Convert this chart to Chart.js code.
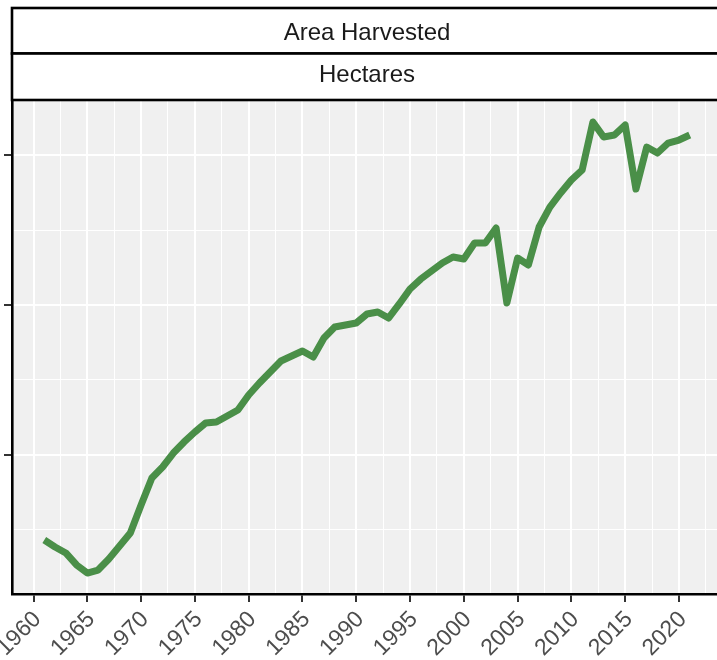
<!DOCTYPE html>
<html><head><meta charset="utf-8">
<script src="https://cdn.jsdelivr.net/npm/chart.js@4.4.1/dist/chart.umd.min.js"></script>
<style>
html,body{margin:0;padding:0;overflow:hidden;background:#fff;}
#wrap{width:722px;height:660px;}
</style></head>
<body><div id="wrap"><canvas id="c" width="722" height="660"></canvas></div>
<script>
// Data (area harvested, relative units)
const years = [1961,1962,1963,1964,1965,1966,1967,1968,1969,1970,
  1971,1972,1973,1974,1975,1976,1977,1978,1979,1980,
  1981,1982,1983,1984,1985,1986,1987,1988,1989,1990,
  1991,1992,1993,1994,1995,1996,1997,1998,1999,2000,
  2001,2002,2003,2004,2005,2006,2007,2008,2009,2010,
  2011,2012,2013,2014,2015,2016,2017,2018,2019,2020,2021];
const areaHarvested = [0.433,0.387,0.347,0.267,0.213,0.233,0.307,0.393,0.480,0.667,
  0.847,0.920,1.013,1.087,1.153,1.213,1.220,1.260,1.300,1.400,
  1.480,1.553,1.627,1.660,1.693,1.653,1.780,1.853,1.867,1.880,
  1.940,1.953,1.913,2.007,2.107,2.173,2.227,2.280,2.320,2.307,
  2.413,2.413,2.513,2.013,2.313,2.267,2.520,2.653,2.747,2.833,
  2.900,3.220,3.120,3.133,3.200,2.773,3.053,3.013,3.080,3.100,3.133];
const xTickLabels = [1960,1965,1970,1975,1980,1985,1990,1995,2000,2005,2010,2015,2020];
const xMinorTicks = [1962.5,1967.5,1972.5,1977.5,1982.5,1987.5,1992.5,1997.5,2002.5,2007.5,2012.5,2017.5,2022.5];
const yMajorTicks = [1,2,3];
const yMinorTicks = [0.5,1.5,2.5];
const stripLabels = ['Area Harvested','Hectares'];

const FONT = '"Liberation Sans", Arial, Helvetica, sans-serif';
const isMajorX = v => xTickLabels.includes(v);
const isMajorY = v => yMajorTicks.includes(v);

const panelPlugin = {
  id: 'panel',
  beforeDraw(chart) {
    const {ctx, chartArea: a} = chart;
    ctx.save();
    ctx.fillStyle = '#F0F0F0';
    ctx.fillRect(a.left, a.top, a.right - a.left, a.bottom - a.top);
    ctx.restore();
  },
  afterDraw(chart) {
    const {ctx, chartArea: a} = chart;
    ctx.save();
    const strips = [[8, 53.5, 40], [53.5, 100, 82]];
    const cx = (a.left + a.right) / 2;
    strips.forEach((s, i) => {
      ctx.fillStyle = '#fff';
      ctx.fillRect(a.left, s[0], a.right - a.left + 10, s[1] - s[0]);
      ctx.strokeStyle = '#000';
      ctx.lineWidth = 2.6;
      ctx.strokeRect(a.left, s[0], a.right - a.left + 10, s[1] - s[0]);
      ctx.fillStyle = '#1a1a1a';
      ctx.font = '24px ' + FONT;
      ctx.textAlign = 'center';
      ctx.textBaseline = 'alphabetic';
      ctx.fillText(stripLabels[i], cx, s[2]);
    });
    ctx.restore();
  }
};

new Chart(document.getElementById('c'), {
  type: 'line',
  data: {
    datasets: [{
      data: years.map((y, i) => ({x: y, y: areaHarvested[i]})),
      borderColor: '#4A8F48',
      borderWidth: 7,
      pointRadius: 0,
      tension: 0,
      borderJoinStyle: 'round',
      borderCapStyle: 'butt',
      fill: false
    }]
  },
  options: {
    responsive: false,
    animation: false,
    devicePixelRatio: 1,
    layout: {padding: {top: 100, left: 0, right: 0, bottom: 0}},
    plugins: {legend: {display: false}, tooltip: {enabled: false}},
    scales: {
      x: {
        type: 'linear',
        min: 1958, max: 2024,
        afterBuildTicks: s => { s.ticks = xTickLabels.concat(xMinorTicks).sort((a,b)=>a-b).map(v => ({value: v})); },
        afterFit: s => { s.height = 66; s.paddingLeft = 0; s.paddingRight = 0; },
        ticks: {
          autoSkip: false, minRotation: 45, maxRotation: 45,
          callback: v => isMajorX(v) ? String(v) : '',
          font: {size: 23, family: FONT},
          color: '#4d4d4d',
          padding: 4,
          labelOffset: 4
        },
        grid: {
          color: '#ffffff',
          lineWidth: c => (c.tick && isMajorX(c.tick.value)) ? 2 : 1,
          tickLength: 8,
          tickWidth: 2,
          tickColor: c => (c.tick && isMajorX(c.tick.value)) ? '#333333' : 'rgba(0,0,0,0)'
        },
        border: {display: true, color: '#000', width: 2.6}
      },
      y: {
        type: 'linear',
        min: 0.0733, max: 3.3667,
        afterBuildTicks: s => { s.ticks = yMinorTicks.concat(yMajorTicks).sort((a,b)=>a-b).map(v => ({value: v})); },
        afterFit: s => { s.width = 12; s.paddingTop = 0; s.paddingBottom = 0; },
        ticks: {callback: () => '', padding: 0},
        grid: {
          color: '#ffffff',
          lineWidth: c => (c.tick && isMajorY(c.tick.value)) ? 2 : 1,
          tickLength: 8,
          tickWidth: 2,
          tickColor: c => (c.tick && isMajorY(c.tick.value)) ? '#333333' : 'rgba(0,0,0,0)'
        },
        border: {display: true, color: '#000', width: 2.6}
      }
    }
  },
  plugins: [panelPlugin]
});
</script>
</body></html>
